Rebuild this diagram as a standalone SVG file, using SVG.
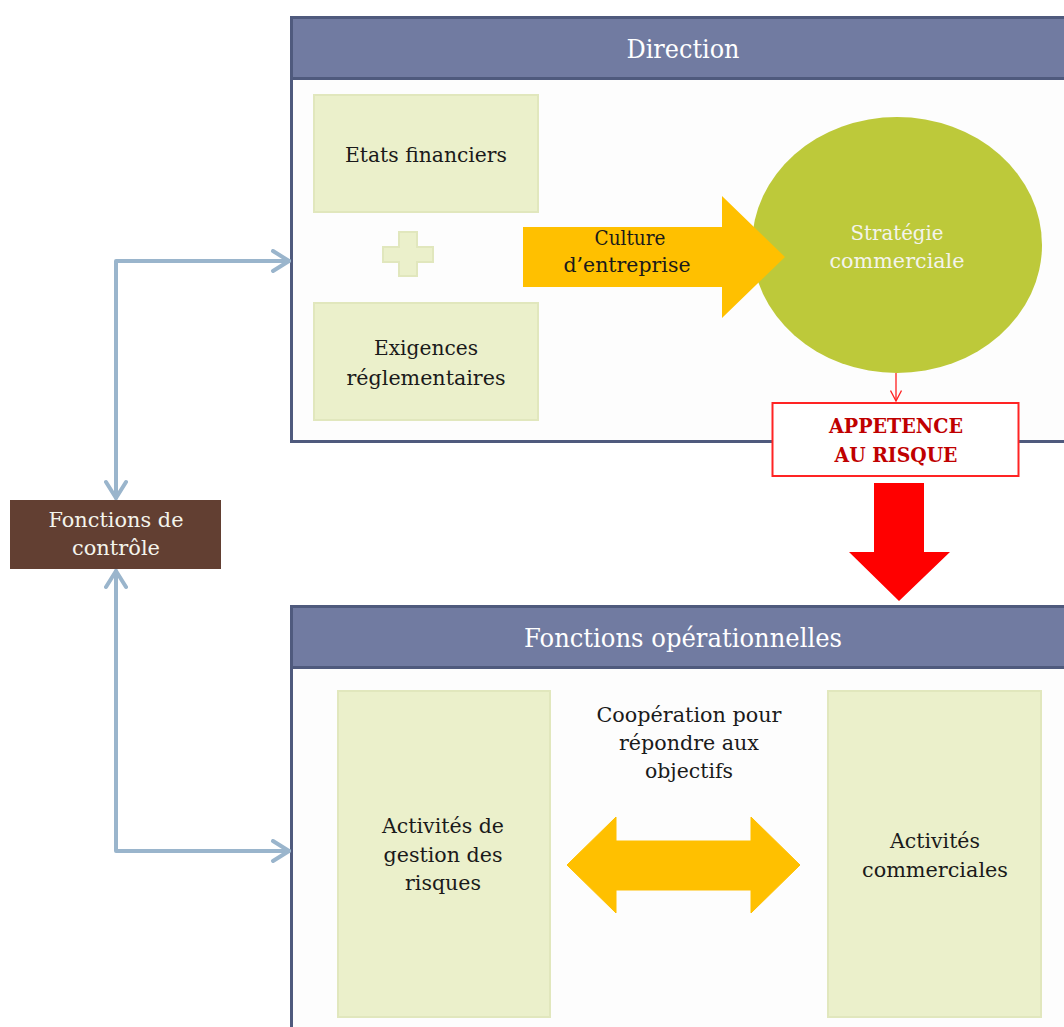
<svg xmlns="http://www.w3.org/2000/svg" width="1064" height="1027" viewBox="0 0 1064 1027">
  <defs>
    <style>
      text { font-family: "DejaVu Serif", "Liberation Serif", serif; text-anchor: middle; }
      .title { font-size: 26px; fill: #FFFFFF; }
      .body { font-size: 21px; fill: #1A1A1A; }
      .light { font-size: 21px; fill: #F4F4EC; }
      .risk { font-size: 21px; font-weight: bold; fill: #C00000; }
      .panelHead { fill: #717BA1; stroke: #4F5A7D; stroke-width: 3; }
      .panelBody { fill: #FDFDFD; stroke: #4F5A7D; stroke-width: 3; }
      .pale { fill: #EBF0CB; stroke: #E1E7BD; stroke-width: 2; }
      .blue { fill: none; stroke: #9AB5CC; stroke-width: 4; stroke-linecap: round; stroke-linejoin: round; }
    </style>
    <marker id="chev" viewBox="0 0 12 12" refX="10" refY="6" markerWidth="6" markerHeight="6" markerUnits="strokeWidth" orient="auto-start-reverse">
      <path d="M2,1 L10,6 L2,11" fill="none" stroke="#9AB5CC" stroke-width="2" stroke-linecap="round" stroke-linejoin="round"/>
    </marker>
    <marker id="redv" viewBox="0 0 12 12" refX="6" refY="11" markerWidth="12" markerHeight="12" markerUnits="userSpaceOnUse" orient="0">
      <path d="M0.5,0.5 L6,11 L11.5,0.5" fill="none" stroke="#FF2020" stroke-width="1.3"/>
    </marker>
  </defs>

  <rect x="0" y="0" width="1064" height="1027" fill="#FFFFFF"/>

  <!-- Direction panel -->
  <g id="direction">
    <rect class="panelBody" x="291.5" y="17.5" width="800" height="424"/>
    <rect class="panelHead" x="291.5" y="17.5" width="800" height="61"/>
    <text class="title" x="683" y="58" textLength="113" lengthAdjust="spacingAndGlyphs">Direction</text>
  </g>

  <!-- Fonctions opérationnelles panel -->
  <g id="fonctions-operationnelles">
    <rect class="panelBody" x="291.5" y="606.5" width="800" height="440"/>
    <rect class="panelHead" x="291.5" y="606.5" width="800" height="61"/>
    <text class="title" x="683" y="647" textLength="318" lengthAdjust="spacingAndGlyphs">Fonctions opérationnelles</text>
  </g>

  <g id="etats-financiers">
    <rect class="pale" x="314" y="95" width="224" height="117"/>
    <text class="body" x="426" y="162" textLength="162" lengthAdjust="spacingAndGlyphs">Etats financiers</text>
  </g>

  <g id="plus">
    <path class="pale" d="M399,232 H417 V247 H433 V262 H417 V276 H399 V262 H383 V247 H399 Z"/>
  </g>

  <g id="exigences">
    <rect class="pale" x="314" y="303" width="224" height="117"/>
    <text class="body" x="426" y="355" textLength="104" lengthAdjust="spacingAndGlyphs">Exigences</text>
    <text class="body" x="426" y="385" textLength="159" lengthAdjust="spacingAndGlyphs">réglementaires</text>
  </g>

  <g id="strategie">
    <ellipse cx="897" cy="245" rx="145" ry="128" fill="#BDC93A"/>
    <text class="light" x="897" y="240" textLength="93" lengthAdjust="spacingAndGlyphs">Stratégie</text>
    <text class="light" x="897" y="268" textLength="135" lengthAdjust="spacingAndGlyphs">commerciale</text>
  </g>

  <g id="culture">
    <path d="M523,227 H722 V196 L785,257 L722,318 V287 H523 Z" fill="#FFC000"/>
    <text class="body" x="630" y="245" textLength="71" lengthAdjust="spacingAndGlyphs">Culture</text>
    <text class="body" x="627" y="272" textLength="127" lengthAdjust="spacingAndGlyphs">d’entreprise</text>
  </g>

  <g id="appetence">
    <rect x="772.5" y="403" width="246" height="73" fill="#FFFFFF" stroke="#FF2424" stroke-width="2"/>
    <text class="risk" x="896" y="433" textLength="134" lengthAdjust="spacingAndGlyphs">APPETENCE</text>
    <text class="risk" x="896" y="462" textLength="123" lengthAdjust="spacingAndGlyphs">AU RISQUE</text>
  </g>

  <g id="fonctions-controle">
    <rect x="10" y="500" width="211" height="69" fill="#623F32"/>
    <text class="light" x="116" y="527" textLength="135" lengthAdjust="spacingAndGlyphs">Fonctions de</text>
    <text class="light" x="116" y="555" textLength="88" lengthAdjust="spacingAndGlyphs">contrôle</text>
  </g>

  <g id="activites-risques">
    <rect class="pale" x="338" y="691" width="212" height="326"/>
    <text class="body" x="443" y="833" textLength="122" lengthAdjust="spacingAndGlyphs">Activités de</text>
    <text class="body" x="443" y="862" textLength="119" lengthAdjust="spacingAndGlyphs">gestion des</text>
    <text class="body" x="443" y="890" textLength="76" lengthAdjust="spacingAndGlyphs">risques</text>
  </g>

  <g id="activites-commerciales">
    <rect class="pale" x="828" y="691" width="213" height="326"/>
    <text class="body" x="935" y="848" textLength="90" lengthAdjust="spacingAndGlyphs">Activités</text>
    <text class="body" x="935" y="877" textLength="146" lengthAdjust="spacingAndGlyphs">commerciales</text>
  </g>

  <g id="cooperation">
    <text class="body" x="689" y="722" textLength="185" lengthAdjust="spacingAndGlyphs">Coopération pour</text>
    <text class="body" x="689" y="750" textLength="140" lengthAdjust="spacingAndGlyphs">répondre aux</text>
    <text class="body" x="689" y="778" textLength="88" lengthAdjust="spacingAndGlyphs">objectifs</text>
  </g>

  <!-- connectors -->
  <g id="connectors">
    <path class="blue" d="M116,498 V261 H289" marker-start="url(#chev)" marker-end="url(#chev)"/>
    <path class="blue" d="M116,571 V851 H289" marker-start="url(#chev)" marker-end="url(#chev)"/>
    <line x1="896" y1="373" x2="896" y2="401" stroke="#FF2020" stroke-width="1.3" marker-end="url(#redv)"/>
    <path d="M874,483 H924 V552 H950 L899,601 L849,552 H874 Z" fill="#FF0000"/>
    <path d="M567,865 L616,817 V841 H751 V817 L800,865 L751,913 V890 H616 V913 Z" fill="#FFC000" stroke="#FFC000" stroke-width="1" stroke-linejoin="round"/>
  </g>
</svg>
